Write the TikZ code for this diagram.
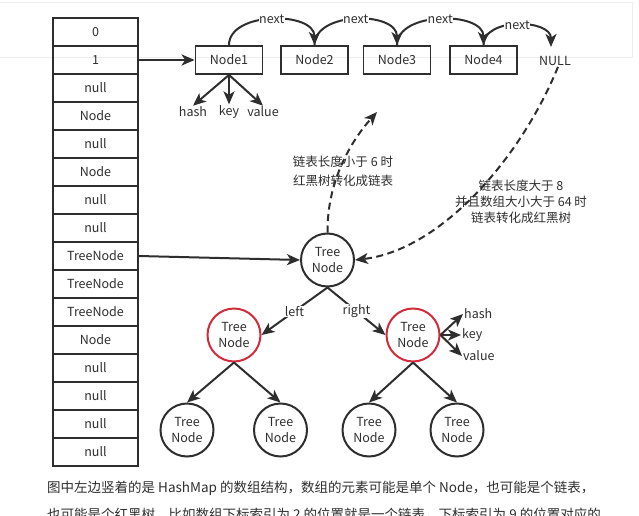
\documentclass[tikz,border=0pt]{standalone}
\usepackage{fontspec}
\setmainfont{Noto Sans CJK SC}
\usetikzlibrary{arrows.meta}
\definecolor{ink}{HTML}{2E2E2E}
\definecolor{rd}{HTML}{D22B3B}
\definecolor{faint}{HTML}{EDEDED}
\begin{document}
\begin{tikzpicture}[x=1pt,y=-1pt,
  fs/.style={font=\fontsize{12.5}{14}\selectfont},
  cell/.style={draw=ink, line width=1.8pt, minimum width=85pt, minimum height=28pt, inner sep=0pt, fs, text=ink},
  lnode/.style={draw=ink, line width=1.8pt, minimum width=67pt, minimum height=28pt, inner sep=0pt, fs, text=ink},
  tnode/.style={circle, draw=ink, line width=2pt, minimum size=53pt, inner sep=0pt, align=center, font=\fontsize{12.5}{16}\selectfont, text=ink},
  rednode/.style={tnode, draw=rd},
  lbl/.style={fs, text=ink, inner sep=1pt},
  lblw/.style={fs, text=ink, inner sep=0.5pt, fill=white},
  arr/.style={draw=ink, line width=2pt, -{Stealth[length=13pt,width=11pt,inset=3.5pt]}},
  darr/.style={arr, dash pattern=on 7pt off 4.5pt},
  cn/.style={align=center, text=ink, font=\fontsize{12.5}{19}\selectfont},
  para/.style={anchor=west, text=ink, inner sep=0pt, font=\fontsize{13.5}{16}\selectfont}]
\clip (0,0) rectangle (639,516);
\useasboundingbox (0,0) rectangle (639,516);
% faint panel of the screenshot
\draw[faint, line width=0.8pt] (-2,2) -- (632,2) -- (632,57) -- (-2,57);
% array
\foreach \t [count=\i from 0] in {0,1,null,Node,null,Node,null,null,TreeNode,TreeNode,TreeNode,Node,null,null,null,null}
  \node[cell] (c\i) at (95.5,{32+28*\i}) {\t};
% linked list
\node[lnode] (n1) at (229,60) {Node1};
\node[lnode] (n2) at (314.5,60) {Node2};
\node[lnode] (n3) at (397,60) {Node3};
\node[lnode] (n4) at (483.5,60) {Node4};
\node[lbl] (nul) at (555,61) {NULL};
\coordinate (nultip) at (551,47);
\draw[arr] (c1.east) -- (n1.west);
\draw[arr] (n1.north) .. controls +(0,-34) and +(0,-34) .. (n2.north) node[lblw, pos=0.5] (x1) {next};
\draw[arr] (n2.north) .. controls +(0,-34) and +(0,-34) .. (n3.north) node[lblw, pos=0.5] (x2) {next};
\draw[arr] (n3.north) .. controls +(0,-34) and +(0,-34) .. (n4.north) node[lblw, pos=0.5] (x3) {next};
\draw[arr] (n4.north) .. controls +(0,-28) and +(0,-28) .. (nultip) node[lblw, pos=0.5] (x4) {next};
% node fields
\node[lbl] (h1) at (193,112) {hash};
\node[lbl] (k1) at (229,112) {key};
\node[lbl] (v1) at (263,112) {value};
\draw[arr] (n1.south) -- (h1.north);
\draw[arr] (n1.south) -- (k1.north);
\draw[arr] (n1.south) -- (v1.north);
% tree
\node[tnode] (root) at (327.5,260) {Tree\\Node};
\node[rednode] (lr) at (234,335) {Tree\\Node};
\node[rednode] (rr) at (413,335) {Tree\\Node};
\node[tnode] (ll) at (187,430) {Tree\\Node};
\node[tnode] (lrr) at (280.5,430) {Tree\\Node};
\node[tnode] (rl) at (369,430) {Tree\\Node};
\node[tnode] (rrr) at (457,430) {Tree\\Node};
\draw[arr] (c8.east) -- (root.west);
\draw[arr] (root.south) -- (lr.east) node[lblw, pos=0.5] (lt) {left};
\draw[arr] (root.south) -- (rr.west) node[lblw, pos=0.5] (rt) {right};
\draw[arr] (lr.south) -- (ll.north);
\draw[arr] (lr.south) -- (lrr.north);
\draw[arr] (rr.south) -- (rl.north);
\draw[arr] (rr.south) -- (rrr.north);
\node[lbl, anchor=west] (h2) at (463,314) {hash};
\node[lbl, anchor=west] (k2) at (461,335) {key};
\node[lbl, anchor=west] (v2) at (462,356) {value};
\draw[arr] (rr.east) -- (h2.west);
\draw[arr] (rr.east) -- (k2.west);
\draw[arr] (rr.east) -- (v2.west);
% conversions
\coordinate (uptip) at (377,112);
\draw[darr] (root.north) .. controls (327,180) and (352,140) .. (uptip);
\draw[darr] ([xshift=3pt]nul.south) .. controls (520,160) and (440,250) .. (root.east);
\node[cn] (t1) at (343,171) {链表长度小于 6 时\\红黑树转化成链表};
\node[cn, font=\fontsize{12.5}{16}\selectfont] (t2) at (521,202) {链表长度大于 8\\并且数组大小大于 64 时\\链表转化成红黑树};
% caption text
\node[para] (p1) at (47,488) {图中左边竖着的是 HashMap 的数组结构，数组的元素可能是单个 Node，也可能是个链表，};
\node[para] (p2) at (47,514) {也可能是个红黑树，比如数组下标索引为 2 的位置就是一个链表，下标索引为 9 的位置对应的};
\end{tikzpicture}
\end{document}
